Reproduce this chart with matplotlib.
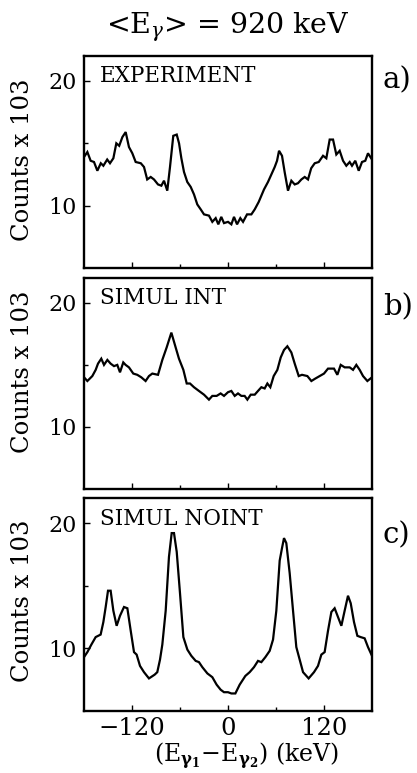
import matplotlib
matplotlib.use("Agg")
import matplotlib.pyplot as plt
from matplotlib.ticker import FixedLocator

plt.rcParams["font.family"] = ["DejaVu Serif"]
plt.rcParams["mathtext.fontset"] = "dejavuserif"

# Energy difference (keV) and counts (x 10^3) for each spectrum
x_exp = [-180, -175.8, -171.7, -167.5, -163.3, -159, -155.8, -151, -147.5, -143.3,
         -139.6, -136, -132, -127.9, -123.8, -119.6, -115.4, -109, -105, -101,
         -96.6, -92.5, -87.5, -83.3, -80, -75.9, -72.5, -68.4, -64.1, -61.2,
         -58.3, -55, -50.9, -46.6, -42.5, -38.4, -34.1, -30, -23.8, -19.6,
         -15.4, -12.1, -8.4, -5, 0, 4.2, 7.5, 11.3, 15.4, 18.8,
         23.8, 29.2, 33.4, 38.4, 41.7, 45, 50, 54.2, 58.4, 61.3,
         63.8, 67.5, 70.8, 75, 79.2, 83.4, 87.5, 91.7, 95.9, 100,
         104, 108.4, 113.4, 118.8, 122.9, 127.1, 131.3, 135.4, 139.6, 143.8,
         147.9, 152.1, 155, 159.1, 163.4, 167.5, 171.6, 175, 180]
y_exp = [13.9, 14.3, 13.6, 13.5, 12.8, 13.4, 13.2, 13.7, 13.4, 13.8,
         15.0, 14.8, 15.5, 15.9, 14.7, 14.2, 13.5, 13.4, 13.1, 12.1,
         12.3, 12.1, 11.7, 11.6, 12.0, 11.2, 13.1, 15.6, 15.7, 15.0,
         13.8, 12.7, 11.9, 11.5, 10.9, 10.1, 9.7, 9.3, 9.2, 8.7,
         9.0, 8.5, 9.1, 8.6, 8.7, 8.5, 9.1, 8.5, 9.0, 8.7,
         9.3, 9.3, 9.7, 10.3, 10.8, 11.3, 11.9, 12.5, 13.1, 13.6,
         14.4, 14.0, 12.7, 11.2, 12.0, 11.7, 11.8, 12.1, 12.3, 12.1,
         13.0, 13.4, 13.5, 14.0, 13.8, 15.3, 15.3, 14.1, 14.4, 13.6,
         13.2, 13.5, 13.2, 13.6, 12.8, 13.5, 13.6, 14.2, 13.7]

x_int = [-180, -175.8, -169.6, -165.4, -162.5, -158.4, -155, -150.8, -146.7, -142.5,
         -138.4, -135, -130.9, -128, -123.8, -118.4, -113.4, -108.4, -103, -98.8,
         -94.6, -87.5, -82.1, -76.7, -70.8, -65.4, -61.3, -55.8, -51.6, -47.5,
         -42.5, -36.3, -30, -23.8, -19.6, -14.2, -9.2, -5, 0, 4.2,
         8.4, 12.5, 16.7, 20.8, 24.2, 28.4, 33.4, 37.5, 41.7, 45.8,
         49.2, 52.9, 57.1, 61.7, 65.9, 70, 74.2, 79.2, 83.4, 88.4,
         92.5, 99.2, 104.2, 109.2, 114.6, 120, 125, 132.5, 136.7, 140.9,
         145.9, 152.1, 156.3, 160.4, 164.6, 168.8, 174.2, 180]
y_int = [14.0, 13.7, 14.1, 14.6, 15.1, 15.5, 15.0, 15.4, 15.1, 14.9,
         15.0, 14.4, 15.2, 15.0, 14.8, 14.3, 14.2, 14.0, 13.7, 14.1,
         14.3, 14.2, 15.4, 16.4, 17.6, 16.4, 15.5, 14.6, 13.5, 13.5,
         13.2, 12.9, 12.6, 12.2, 12.5, 12.5, 12.7, 12.5, 12.8, 12.9,
         12.5, 12.7, 12.5, 12.5, 12.2, 12.6, 12.6, 12.9, 13.2, 13.1,
         13.5, 13.2, 14.1, 14.6, 15.6, 16.2, 16.5, 16.0, 15.1, 14.1,
         14.2, 14.1, 13.7, 13.9, 14.1, 14.3, 14.7, 14.7, 14.2, 15.0,
         14.8, 14.8, 14.6, 15.0, 14.6, 14.1, 13.7, 14.0]

x_noint = [-180, -175.8, -170.8, -165.4, -159.2, -155.8, -152.9, -150, -146.7, -143.3,
           -139.2, -135, -130, -125.8, -121.6, -117.5, -114.2, -110, -105, -98.8,
           -91.7, -88.4, -85, -82.1, -77.9, -73.8, -70.4, -67.5, -64.1, -60,
           -55.8, -50.8, -45.8, -40.4, -36.3, -32.1, -25.8, -19.6, -14.2, -9.2,
           -5, 0, 4.2, 9.2, 14.6, 21.7, 27.1, 32.5, 37.5, 41.7,
           46.7, 52.1, 56.3, 60.4, 64.6, 67.5, 70, 72.9, 77.1, 81.3,
           85.4, 89.6, 93.8, 100.8, 107.5, 112.5, 116.7, 120.8, 125, 129.2,
           133.3, 137.5, 141.7, 145.8, 150, 153.4, 157.5, 161.7, 165.8, 170.8,
           175, 180]
y_noint = [9.3, 9.7, 10.3, 10.9, 11.1, 12.1, 13.3, 14.6, 14.6, 13.0,
           11.8, 12.6, 13.3, 13.2, 11.4, 9.7, 9.5, 8.6, 8.1, 7.6,
           7.9, 8.1, 9.1, 10.3, 13.0, 17.3, 19.2, 19.2, 17.7, 14.4,
           10.9, 9.9, 9.4, 9.0, 8.9, 8.5, 8.0, 7.7, 7.1, 6.7,
           6.5, 6.5, 6.4, 6.4, 7.1, 7.8, 8.1, 8.5, 9.0, 8.9,
           9.3, 9.8, 10.7, 13.0, 17.0, 18.0, 18.8, 18.4, 16.0, 13.0,
           10.1, 9.1, 8.1, 7.6, 8.1, 8.6, 9.5, 9.7, 11.4, 12.9,
           13.2, 12.5, 11.8, 13.0, 14.2, 13.6, 12.1, 11.0, 10.9, 10.8,
           10.1, 9.4]

panel_names = ["EXPERIMENT", "SIMUL INT", "SIMUL NOINT"]
panel_tags = ["a)", "b)", "c)"]
x_major = [-120, 0, 120]
x_major_labels = ["\u2212120", "0", "120"]
x_minor = [-60, 60]
y_major = [10, 20]
y_major_labels = ["10", "20"]
y_minor = [15]

series = [(x_exp, y_exp), (x_int, y_int), (x_noint, y_noint)]

W, H = 417, 773
fig = plt.figure(figsize=(W / 100, H / 100), dpi=100)

# axes boxes in pixel units: (left, top, right, bottom)
boxes = [(84, 56, 372, 268), (84, 278, 372, 489), (84, 498, 372, 711)]
ylabel_centres = [160, 372, 601]
tag_baselines = [88, 315, 543]

axes = []
for i, ((l, t, r, b), (xs, ys)) in enumerate(zip(boxes, series)):
    ax = fig.add_axes([l / W, 1 - b / H, (r - l) / W, (b - t) / H])
    ax.plot(xs, ys, color="black", lw=1.6, solid_joinstyle="miter")
    ax.set_xlim(-180, 180)
    ax.set_ylim(5, 22)
    for sp in ax.spines.values():
        sp.set_linewidth(1.7)
    ax.xaxis.set_major_locator(FixedLocator(x_major))
    ax.xaxis.set_minor_locator(FixedLocator(x_minor))
    ax.set_yticks(y_major, y_major_labels)
    ax.yaxis.set_minor_locator(FixedLocator(y_minor))
    ax.tick_params(which="both", direction="in", top=False, right=False, width=1)
    ax.tick_params(which="major", length=4.5)
    ax.tick_params(which="minor", length=3)
    ax.tick_params(axis="y", labelsize=16, pad=5.5)
    if i == 2:
        ax.set_xticks(x_major, x_major_labels)
        ax.tick_params(axis="x", labelsize=17.5, pad=4)
    else:
        ax.tick_params(axis="x", labelbottom=False)
    ax.text(0.056, 0.875, panel_names[i], transform=ax.transAxes,
            fontsize=15.5, ha="left", va="baseline")
    ax.set_ylabel("Counts x 103", fontsize=17.5, va="center")
    ax.yaxis.set_label_coords((23 - l) / (r - l), (b - ylabel_centres[i]) / (b - t))
    fig.text(383 / W, 1 - tag_baselines[i] / H, panel_tags[i], fontsize=21,
             ha="left", va="baseline")
    axes.append(ax)

fig.text(228 / W, 1 - 33 / H, r"<E$_{\gamma}$> = 920 keV", fontsize=20.5,
         ha="center", va="baseline")

ax = axes[2]
ax.set_xlabel(r"(E$_{\mathbf{\gamma}_\mathbf{1}}$$-$E$_{\mathbf{\gamma}_\mathbf{2}}$) (keV)",
              fontsize=17, va="center")
ax.xaxis.set_label_coords((247 - 84) / 288, (711 - 756) / 213)

fig.savefig("out.png", dpi=100)
